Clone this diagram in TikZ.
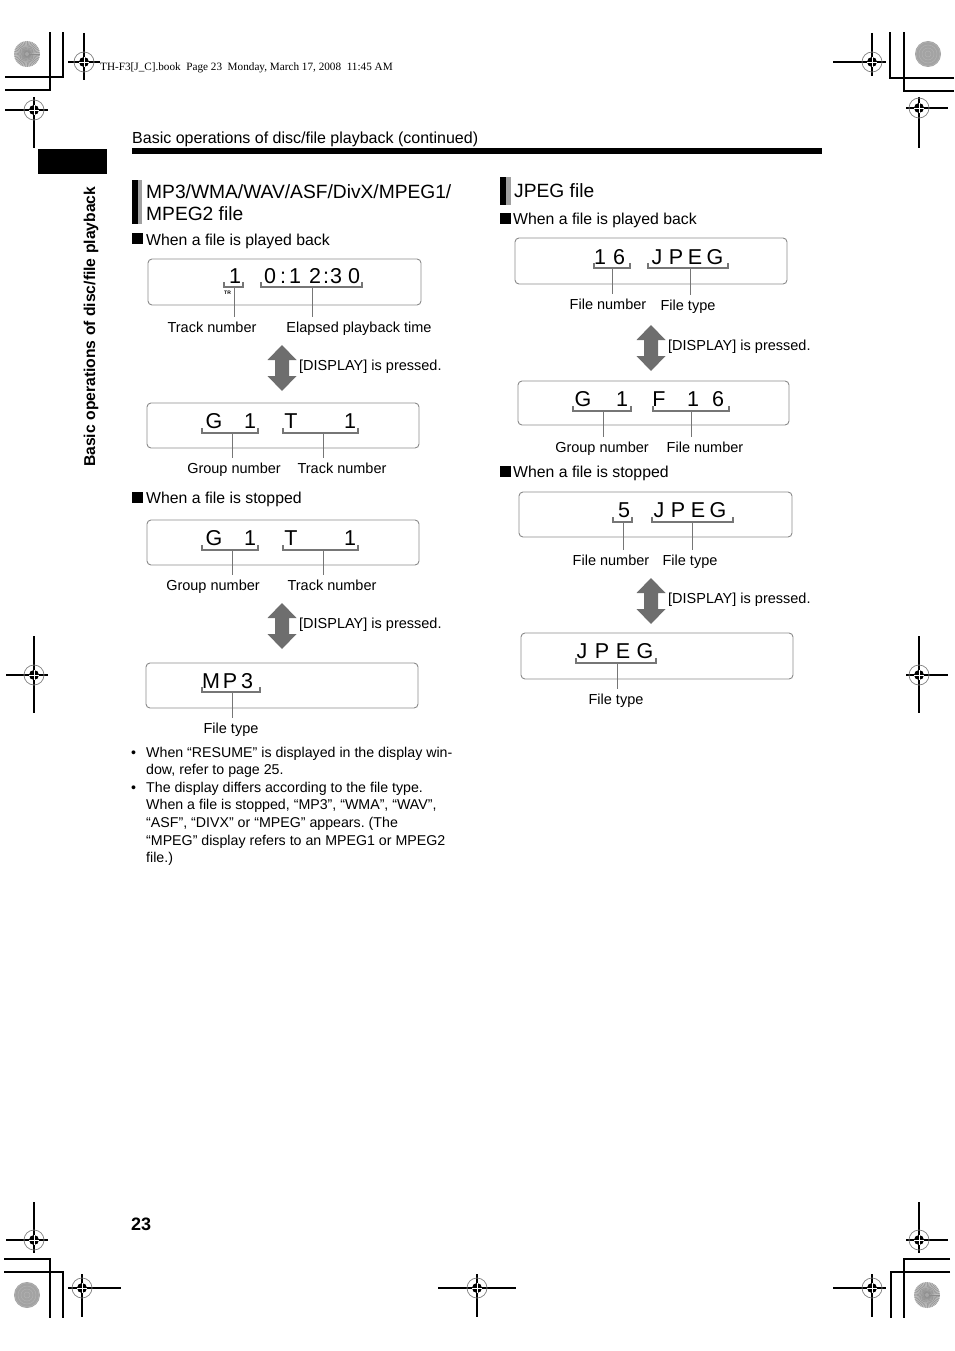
\documentclass[tikz,border=0pt]{standalone}
\usepackage{fontspec}
\setmainfont{Liberation Sans}
\newfontfamily\timesf{Liberation Serif}
\usetikzlibrary{calc}
\frenchspacing
\definecolor{framec}{HTML}{8A8A8A}
\definecolor{brkc}{HTML}{767676}
\definecolor{arrc}{HTML}{6E6E6E}
\definecolor{barc}{HTML}{A0A0A0}
\tikzset{
  disp/.style={draw=framec,line width=0.9pt,rounded corners=4pt},
  lcd/.style={anchor=base,inner sep=0pt,font=\fontsize{21.5}{22}\selectfont},
  brk/.style={brkc,line width=1.6pt},
  lead/.style={brkc,line width=1pt},
  lbl/.style={anchor=base,inner xsep=0pt,inner ysep=4pt,font=\fontsize{14.5}{16}\selectfont},
  txt/.style={anchor=base west,inner sep=0pt,font=\fontsize{14.2}{16}\selectfont},
  subh/.style={anchor=base west,inner sep=0pt,font=\fontsize{15.8}{17}\selectfont},
  head/.style={anchor=base west,inner sep=0pt,font=\fontsize{19.2}{21}\selectfont},
  crop/.style={black,line width=1.2pt},
  tgtring/.style={gray,line width=0.7pt},
  pics/dblar/.style={code={
    \fill[arrc] (0,-23) -- (14.5,-8) -- (7,-8) -- (7,8) -- (14.5,8) -- (0,23)
      -- (-14.5,8) -- (-7,8) -- (-7,-8) -- (-14.5,-8) -- cycle;}}
}

\begin{document}
\begin{tikzpicture}[x=1pt,y=-1pt]
\useasboundingbox (0,0) rectangle (954,1351);

% crop marks
\draw[crop] (5,77) -- (63,77) -- (63,32);
\draw[crop] (5,90) -- (50,90) -- (50,32);
\draw[crop] (954,78) -- (890,78) -- (890,32);
\draw[crop] (954,91) -- (904,91) -- (904,32);
\draw[crop] (4,1259) -- (50,1259) -- (50,1318);
\draw[crop] (4,1272) -- (63,1272) -- (63,1318);
\draw[crop] (950,1259) -- (904,1259) -- (904,1318);
\draw[crop] (950,1272) -- (891,1272) -- (891,1318);

% registration targets
\foreach \tx/\ty/\hl/\hr/\vt/\vb in {84/62/68/100/33/80, 34/110/5/48/97/148,
    872/62/833/886/33/76, 919/108/906/948/97/148, 34/675/6/48/636/713,
    919/675/906/948/636/713, 34/1240/6/48/1202/1253, 82/1288/68/121/1274/1317,
    477/1288/438/516/1274/1317, 872/1288/833/886/1274/1317, 919/1240/906/948/1202/1253}{
  \draw[crop] (\hl,\ty) -- (\hr,\ty) (\tx,\vt) -- (\tx,\vb);
  \draw[tgtring] (\tx,\ty) circle (10pt);
  \fill (\tx,\ty) circle (5pt);
  \draw[white,line width=0.7pt] (\tx-5,\ty) -- (\tx+5,\ty) (\tx,\ty-5) -- (\tx,\ty+5);
}

% color discs
\foreach \cx/\cy in {27/54,927/1295}{
  \fill[gray!50] (\cx,\cy) circle (13pt);
  \foreach \a in {0,8,...,352}
    \draw[gray!90,line width=0.4pt] (\cx,\cy) -- ++(\a:13pt);
  \fill[gray!70] (\cx,\cy) circle (2pt);
}
\foreach \cx/\cy in {928/54,27/1295}{
  \fill[gray!72] (\cx,\cy) circle (13pt);
  \foreach \r in {3,6,9,12}
    \draw[gray!60,line width=0.5pt] (\cx,\cy) circle (\r pt);
}

\node[anchor=base west,inner sep=0pt,font=\timesf\fontsize{11.2}{12}\selectfont] (hdr) at (100,71)
  {TH-F3[J\_C].book\ \ Page 23\ \ Monday, March 17, 2008\ \ 11:45 AM};

% page header
\node[anchor=base west,inner sep=0pt,font=\fontsize{16}{18}\selectfont] (title) at (132,144)
  {Basic operations of disc/file playback (continued)};
\fill (132,148) rectangle (822,154);
\fill (38,149) rectangle (107,174);
\node[rotate=90,anchor=base west,inner sep=0pt,font=\bfseries\fontsize{15.7}{16}\selectfont] (side)
  at (95,467) {Basic operations of disc/file playback};

% left column
\fill (132,180) rectangle (137.5,224);
\fill[barc] (137.5,180) rectangle (142,224);
\node[head] (hmp) at (146,198) {MP3/WMA/WAV/ASF/DivX/MPEG1/};
\node[head] (hmp2) at (146,220) {MPEG2 file};

\fill (132,233) rectangle (143,244);
\node[subh] (splay) at (146,245) {When a file is played back};

\draw[disp] (148,259) rectangle (421,305);
\foreach \cx/\ch [count=\i] in {235/1,270/0,283/:,295/1,315/2,326/:,336/3,354/0}
  \node[lcd] (da\i) at (\cx,283) {\ch};
\node[anchor=base west,inner sep=0pt,font=\bfseries\fontsize{5}{5}\selectfont] (tr) at (224,294) {TR};
\draw[brk] (224,282) -- (224,287) -- (243,287) -- (243,282);
\draw[brk] (261,282) -- (261,287) -- (362,287) -- (362,282);
\coordinate (ba1) at (234,287);
\coordinate (ba2) at (312,287);
\node[lbl] (la1) at (212,332) {Track number};
\node[lbl] (la2) at (359,332) {Elapsed playback time};
\draw[lead] (ba1) -- (ba1 |- la1.north);
\draw[lead] (ba2) -- (ba2 |- la2.north);

\pic at (282,368) {dblar};
\node[txt,font=\fontsize{14.5}{16}\selectfont] (pa) at (299,370) {[DISPLAY] is pressed.};

\draw[disp] (147,403) rectangle (419,448);
\foreach \cx/\ch [count=\i] in {214/G,250/1,291/T,350/1}
  \node[lcd] (db\i) at (\cx,428) {\ch};
\draw[brk] (202,428) -- (202,433) -- (258,433) -- (258,428);
\draw[brk] (283,428) -- (283,433) -- (358,433) -- (358,428);
\coordinate (bb1) at (232,433);
\coordinate (bb2) at (323,433);
\node[lbl] (lb1) at (234,473) {Group number};
\node[lbl] (lb2) at (342,473) {Track number};
\draw[lead] (bb1) -- (bb1 |- lb1.north);
\draw[lead] (bb2) -- (bb2 |- lb2.north);

\fill (132,492) rectangle (143,503);
\node[subh] (sstop) at (146,503) {When a file is stopped};

\draw[disp] (147,520) rectangle (419,565);
\foreach \cx/\ch [count=\i] in {214/G,250/1,291/T,350/1}
  \node[lcd] (dc\i) at (\cx,545) {\ch};
\draw[brk] (202,545) -- (202,550) -- (258,550) -- (258,545);
\draw[brk] (283,545) -- (283,550) -- (358,550) -- (358,545);
\coordinate (bc1) at (232,550);
\coordinate (bc2) at (323,550);
\node[lbl] (lc1) at (213,590) {Group number};
\node[lbl] (lc2) at (332,590) {Track number};
\draw[lead] (bc1) -- (bc1 |- lc1.north);
\draw[lead] (bc2) -- (bc2 |- lc2.north);

\pic at (282,626) {dblar};
\node[txt,font=\fontsize{14.5}{16}\selectfont] (pb) at (299,628) {[DISPLAY] is pressed.};

\draw[disp] (146,663) rectangle (418,708);
\foreach \cx/\ch [count=\i] in {211/M,230/P,247/3}
  \node[lcd] (dd\i) at (\cx,688) {\ch};
\draw[brk] (202,687) -- (202,692) -- (260,692) -- (260,687);
\coordinate (bd1) at (232,692);
\node[lbl] (ld1) at (231,733) {File type};
\draw[lead] (bd1) -- (bd1 |- ld1.north);

% notes
\node[txt] (bu1) at (131,757) {•};
\node[txt] (n1) at (146,757) {When “RESUME” is displayed in the display win-};
\node[txt] (n2) at (146,774) {dow, refer to page 25.};
\node[txt] (bu2) at (131,792) {•};
\node[txt] (n3) at (146,792) {The display differs according to the file type.};
\node[txt] (n4) at (146,809) {When a file is stopped, “MP3”, “WMA”, “WAV”,};
\node[txt] (n5) at (146,827) {“ASF”, “DIVX” or “MPEG” appears. (The};
\node[txt] (n6) at (146,845) {“MPEG” display refers to an MPEG1 or MPEG2};
\node[txt] (n7) at (146,862) {file.)};

% right column
\fill (500,177) rectangle (505.5,205);
\fill[barc] (505.5,177) rectangle (511,205);
\node[head] (hjp) at (514,197) {JPEG file};

\fill (500,213) rectangle (511,224);
\node[subh] (jplay) at (513,224) {When a file is played back};

\draw[disp] (515,238) rectangle (787,284);
\foreach \cx/\ch [count=\i] in {600/1,619/6,657/J,676/P,695/E,715/G}
  \node[lcd] (de\i) at (\cx,264) {\ch};
\draw[brk] (594,263) -- (594,268) -- (630,268) -- (630,263);
\draw[brk] (648,263) -- (648,268) -- (728,268) -- (728,263);
\coordinate (be1) at (612,268);
\coordinate (be2) at (690,268);
\node[lbl] (le1) at (608,309) {File number};
\node[lbl] (le2) at (688,310) {File type};
\draw[lead] (be1) -- (be1 |- le1.north);
\draw[lead] (be2) -- (be2 |- le2.north);

\pic at (651,348) {dblar};
\node[txt,font=\fontsize{14.5}{16}\selectfont] (pc) at (668,350) {[DISPLAY] is pressed.};

\draw[disp] (518,381) rectangle (789,425);
\foreach \cx/\ch [count=\i] in {583/G,622/1,659/F,693/1,718/6}
  \node[lcd] (df\i) at (\cx,406) {\ch};
\draw[brk] (573,406) -- (573,411) -- (631,411) -- (631,406);
\draw[brk] (653,406) -- (653,411) -- (729,411) -- (729,406);
\coordinate (bf1) at (603,411);
\coordinate (bf2) at (691,411);
\node[lbl] (lf1) at (602,452) {Group number};
\node[lbl] (lf2) at (705,452) {File number};
\draw[lead] (bf1) -- (bf1 |- lf1.north);
\draw[lead] (bf2) -- (bf2 |- lf2.north);

\fill (500,466) rectangle (511,477);
\node[subh] (jstop) at (513,477) {When a file is stopped};

\draw[disp] (519,492) rectangle (792,537);
\foreach \cx/\ch [count=\i] in {624/5,659/J,678/P,698/E,718/G}
  \node[lcd] (dg\i) at (\cx,517) {\ch};
\draw[brk] (613,517) -- (613,522) -- (632,522) -- (632,517);
\draw[brk] (652,517) -- (652,522) -- (733,522) -- (733,517);
\coordinate (bg1) at (623,522);
\coordinate (bg2) at (692,522);
\node[lbl] (lg1) at (611,565) {File number};
\node[lbl] (lg2) at (690,565) {File type};
\draw[lead] (bg1) -- (bg1 |- lg1.north);
\draw[lead] (bg2) -- (bg2 |- lg2.north);

\pic at (651,601) {dblar};
\node[txt,font=\fontsize{14.5}{16}\selectfont] (pd) at (668,603) {[DISPLAY] is pressed.};

\draw[disp] (521,633) rectangle (793,679);
\foreach \cx/\ch [count=\i] in {582/J,602/P,623/E,645/G}
  \node[lcd] (dh\i) at (\cx,658) {\ch};
\draw[brk] (576,658) -- (576,663) -- (656,663) -- (656,658);
\coordinate (bh1) at (617,663);
\node[lbl] (lh1) at (616,704) {File type};
\draw[lead] (bh1) -- (bh1 |- lh1.north);

% page number
\node[anchor=base west,inner sep=0pt,font=\bfseries\fontsize{18}{18}\selectfont] (pgno) at (131,1230) {23};
\end{tikzpicture}
\end{document}
